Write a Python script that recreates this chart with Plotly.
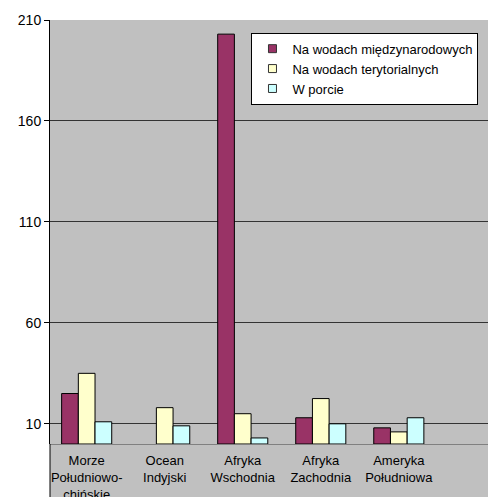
import plotly.graph_objects as go

categories = ["Morze<br>Południowo-<br>chińskie", "Ocean<br>Indyjski", "Afryka<br>Wschodnia",
              "Afryka<br>Zachodnia", "Ameryka<br>Południowa"]
series_names = ["Na wodach międzynarodowych", "Na wodach terytorialnych", "W porcie"]
intl = [25, None, 203, 13, 8]
territorial = [35, 18, 15, 22.5, 6]
port = [11, 9, 3, 10, 13]
colors = ["#993366", "#FFFFCC", "#CCFFFF"]
y_ticks = [10, 60, 110, 160, 210]

fig = go.Figure()
for name, vals, col in zip(series_names, [intl, territorial, port], colors):
    fig.add_trace(go.Bar(x=categories, y=vals, name=name, marker_color=col,
                         marker_line_color="#000000", marker_line_width=1,
                         showlegend=False))
    fig.add_trace(go.Scatter(x=[None], y=[None], mode="markers", name=name,
                             marker=dict(symbol="square", size=8, color=col,
                                         line=dict(color="#333333", width=1))))

fig.update_layout(
    width=488, height=497,
    margin=dict(l=50, r=0, t=20, b=53),
    paper_bgcolor="white",
    plot_bgcolor="#C0C0C0",
    barmode="group",
    bargap=0.358,
    bargroupgap=0,
    font=dict(family="Liberation Sans, Arial, sans-serif", color="#000000"),
    showlegend=True,
    legend=dict(x=0.46, y=0.97, xanchor="left", yanchor="top",
                bgcolor="white", bordercolor="#000000", borderwidth=1,
                font=dict(size=13)),
    xaxis=dict(range=[-0.47, 5.143], showgrid=False, ticks="",
               tickfont=dict(size=13), showline=False, ticklabelstandoff=7,
               automargin=False),
    yaxis=dict(range=[0, 210], tickvals=y_ticks, showgrid=True,
               gridcolor="#333333", gridwidth=1, zeroline=True,
               zerolinecolor="#808080", zerolinewidth=1,
               showline=True, linecolor="#000000", linewidth=1,
               ticks="outside", ticklen=5, tickcolor="#000000",
               tickfont=dict(size=14), automargin=False),
    shapes=[
        dict(type="rect", xref="paper", yref="paper", x0=0, x1=1, y0=-0.2, y1=0,
             fillcolor="#C0C0C0", line_width=0, layer="below"),
        dict(type="line", xref="paper", yref="paper", x0=0, x1=0, y0=-0.2, y1=0,
             line=dict(color="#000000", width=1)),
    ],
)
fig.write_html("out.html")
